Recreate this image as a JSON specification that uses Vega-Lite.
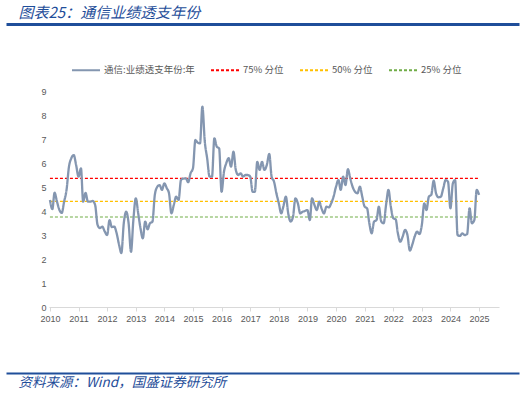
{
  "$schema": "https://vega.github.io/schema/vega-lite/v6.json",
  "background": "white",
  "padding": {"left": 5, "right": 5, "top": 6, "bottom": 0},
  "spacing": 30,
  "config": {"view": {"stroke": null}, "font": "Noto Sans CJK SC"},
  "vconcat": [
    {
      "width": 470,
      "height": 1,
      "title": {"text": "图表25：通信业绩透支年份", "anchor": "start", "dx": 13, "fontSize": 15, "fontStyle": "italic", "fontWeight": "normal", "color": "#1f4e9a", "offset": 2},
      "data": {"values": [{"a": 0}, {"a": 1}]},
      "mark": {"type": "point", "opacity": 0, "size": 1, "strokeWidth": 0},
      "encoding": {
        "x": {"field": "a", "type": "quantitative", "scale": {"domain": [0, 1], "range": [-43, 470]},
          "axis": {"domainColor": "#1f4e9a", "domainWidth": 3, "ticks": false, "labels": false, "title": null, "grid": false}}
      }
    },
    {
      "width": 450,
      "height": 253,
      "encoding": {
        "x": {"field": "d", "type": "temporal",
          "scale": {"domain": ["2009-12-20", "2025-09-12"]},
          "axis": {"title": null, "format": "%Y", "tickCount": {"interval": "year", "step": 1}, "grid": false, "labelFlush": false,
            "domainColor": "#d9d9d9", "tickColor": "#d9d9d9", "tickSize": 4, "labelColor": "#595959", "labelFontSize": 9, "labelFont": "Liberation Sans", "labelPadding": 3}},
        "y": {"field": "v", "type": "quantitative",
          "scale": {"domain": [0, 9], "range": [253, 37]},
          "axis": {"title": null, "values": [0, 1, 2, 3, 4, 5, 6, 7, 8, 9], "domain": false, "ticks": false, "grid": false, "labelOverlap": false,
            "labelColor": "#595959", "labelFontSize": 9, "labelFont": "Liberation Sans", "labelPadding": 3}},
        "color": {"field": "s", "type": "nominal",
          "scale": {"domain": ["通信:业绩透支年份:年", "75% 分位", "50% 分位", "25% 分位"], "range": ["#8496b0", "#ff0000", "#ffc000", "#70ad47"]},
          "legend": {"title": null, "orient": "none", "legendX": 22, "legendY": 32, "direction": "horizontal", "columnPadding": 12, "labelOffset": 3,
            "symbolType": "stroke", "symbolSize": 784, "symbolStrokeWidth": 2, "labelColor": "#595959", "labelFontSize": 9.5, "labelFont": "Noto Sans CJK SC"}},
        "strokeDash": {"field": "s", "type": "nominal",
          "scale": {"domain": ["通信:业绩透支年份:年", "75% 分位", "50% 分位", "25% 分位"], "range": [[1, 0], [3, 2], [3, 2], [3, 2]]},
          "legend": {"title": null, "orient": "none", "legendX": 22, "legendY": 32, "direction": "horizontal", "columnPadding": 12, "labelOffset": 3,
            "symbolType": "stroke", "symbolSize": 784, "symbolStrokeWidth": 2, "labelColor": "#595959", "labelFontSize": 9.5, "labelFont": "Noto Sans CJK SC"}}
      },
      "layer": [
        {
          "data": {"values": [
            {"s": "75% 分位", "v": 5.36, "d": "2010-01-01", "d2": "2025-01-01"},
            {"s": "50% 分位", "v": 4.40, "d": "2010-01-01", "d2": "2025-01-01"},
            {"s": "25% 分位", "v": 3.75, "d": "2010-01-01", "d2": "2025-01-01"}
          ]},
          "mark": {"type": "rule", "strokeWidth": 1.2},
          "encoding": {
            "x2": {"field": "d2"}
          }
        },
        {
          "data": {"values": [
            {"s": "通信:业绩透支年份:年", "d": "2010-01-01", "v": 4.46}, {"s": "通信:业绩透支年份:年", "d": "2010-02-01", "v": 4.08}, {"s": "通信:业绩透支年份:年", "d": "2010-03-01", "v": 4.76}, {"s": "通信:业绩透支年份:年", "d": "2010-04-01", "v": 4.39},
            {"s": "通信:业绩透支年份:年", "d": "2010-05-01", "v": 4.05}, {"s": "通信:业绩透支年份:年", "d": "2010-06-01", "v": 3.92}, {"s": "通信:业绩透支年份:年", "d": "2010-07-01", "v": 4.39}, {"s": "通信:业绩透支年份:年", "d": "2010-08-01", "v": 4.88},
            {"s": "通信:业绩透支年份:年", "d": "2010-09-01", "v": 5.85}, {"s": "通信:业绩透支年份:年", "d": "2010-10-01", "v": 6.2}, {"s": "通信:业绩透支年份:年", "d": "2010-11-01", "v": 6.33}, {"s": "通信:业绩透支年份:年", "d": "2010-12-01", "v": 5.92},
            {"s": "通信:业绩透支年份:年", "d": "2011-01-01", "v": 5.43}, {"s": "通信:业绩透支年份:年", "d": "2011-02-01", "v": 5.78}, {"s": "通信:业绩透支年份:年", "d": "2011-03-01", "v": 4.39}, {"s": "通信:业绩透支年份:年", "d": "2011-04-01", "v": 4.75},
            {"s": "通信:业绩透支年份:年", "d": "2011-05-01", "v": 4.39}, {"s": "通信:业绩透支年份:年", "d": "2011-06-01", "v": 4.39}, {"s": "通信:业绩透支年份:年", "d": "2011-07-01", "v": 4.42}, {"s": "通信:业绩透支年份:年", "d": "2011-08-01", "v": 4.25},
            {"s": "通信:业绩透支年份:年", "d": "2011-09-01", "v": 3.42}, {"s": "通信:业绩透支年份:年", "d": "2011-10-01", "v": 3.29}, {"s": "通信:业绩透支年份:年", "d": "2011-11-01", "v": 3.35}, {"s": "通信:业绩透支年份:年", "d": "2011-12-01", "v": 3.15},
            {"s": "通信:业绩透支年份:年", "d": "2012-01-01", "v": 3.0}, {"s": "通信:业绩透支年份:年", "d": "2012-02-01", "v": 3.62}, {"s": "通信:业绩透支年份:年", "d": "2012-03-01", "v": 3.33}, {"s": "通信:业绩透支年份:年", "d": "2012-04-01", "v": 3.35},
            {"s": "通信:业绩透支年份:年", "d": "2012-05-01", "v": 3.08}, {"s": "通信:业绩透支年份:年", "d": "2012-06-01", "v": 2.6}, {"s": "通信:业绩透支年份:年", "d": "2012-07-01", "v": 2.25}, {"s": "通信:业绩透支年份:年", "d": "2012-08-01", "v": 3.5},
            {"s": "通信:业绩透支年份:年", "d": "2012-09-01", "v": 3.97}, {"s": "通信:业绩透支年份:年", "d": "2012-10-01", "v": 3.5}, {"s": "通信:业绩透支年份:年", "d": "2012-11-01", "v": 2.3}, {"s": "通信:业绩透支年份:年", "d": "2012-12-01", "v": 3.62},
            {"s": "通信:业绩透支年份:年", "d": "2013-01-01", "v": 4.53}, {"s": "通信:业绩透支年份:年", "d": "2013-02-01", "v": 3.9}, {"s": "通信:业绩透支年份:年", "d": "2013-03-01", "v": 3.3}, {"s": "通信:业绩透支年份:年", "d": "2013-04-01", "v": 2.86},
            {"s": "通信:业绩透支年份:年", "d": "2013-05-01", "v": 3.56}, {"s": "通信:业绩透支年份:年", "d": "2013-06-01", "v": 3.24}, {"s": "通信:业绩透支年份:年", "d": "2013-07-01", "v": 3.49}, {"s": "通信:业绩透支年份:年", "d": "2013-08-01", "v": 3.55},
            {"s": "通信:业绩透支年份:年", "d": "2013-09-01", "v": 4.67}, {"s": "通信:业绩透支年份:年", "d": "2013-10-01", "v": 5.0}, {"s": "通信:业绩透支年份:年", "d": "2013-11-01", "v": 5.08}, {"s": "通信:业绩透支年份:年", "d": "2013-12-01", "v": 4.88},
            {"s": "通信:业绩透支年份:年", "d": "2014-01-01", "v": 5.15}, {"s": "通信:业绩透支年份:年", "d": "2014-02-01", "v": 4.95}, {"s": "通信:业绩透支年份:年", "d": "2014-03-01", "v": 4.74}, {"s": "通信:业绩透支年份:年", "d": "2014-04-01", "v": 3.9},
            {"s": "通信:业绩透支年份:年", "d": "2014-05-01", "v": 4.25}, {"s": "通信:业绩透支年份:年", "d": "2014-06-01", "v": 4.6}, {"s": "通信:业绩透支年份:年", "d": "2014-07-01", "v": 4.46}, {"s": "通信:业绩透支年份:年", "d": "2014-08-01", "v": 5.29},
            {"s": "通信:业绩透支年份:年", "d": "2014-09-01", "v": 5.35}, {"s": "通信:业绩透支年份:年", "d": "2014-10-01", "v": 5.36}, {"s": "通信:业绩透支年份:年", "d": "2014-11-01", "v": 5.2}, {"s": "通信:业绩透支年份:年", "d": "2014-12-01", "v": 5.57},
            {"s": "通信:业绩透支年份:年", "d": "2015-01-01", "v": 5.78}, {"s": "通信:业绩透支年份:年", "d": "2015-02-01", "v": 6.96}, {"s": "通信:业绩透支年份:年", "d": "2015-03-01", "v": 6.85}, {"s": "通信:业绩透支年份:年", "d": "2015-04-01", "v": 6.82},
            {"s": "通信:业绩透支年份:年", "d": "2015-05-01", "v": 8.35}, {"s": "通信:业绩透支年份:年", "d": "2015-06-01", "v": 6.89}, {"s": "通信:业绩透支年份:年", "d": "2015-07-01", "v": 6.2}, {"s": "通信:业绩透支年份:年", "d": "2015-08-01", "v": 5.43},
            {"s": "通信:业绩透支年份:年", "d": "2015-09-01", "v": 5.43}, {"s": "通信:业绩透支年份:年", "d": "2015-10-01", "v": 7.03}, {"s": "通信:业绩透支年份:年", "d": "2015-11-01", "v": 6.68}, {"s": "通信:业绩透支年份:年", "d": "2015-12-01", "v": 6.61},
            {"s": "通信:业绩透支年份:年", "d": "2016-01-01", "v": 4.8}, {"s": "通信:业绩透支年份:年", "d": "2016-02-01", "v": 5.64}, {"s": "通信:业绩透支年份:年", "d": "2016-03-01", "v": 5.99}, {"s": "通信:业绩透支年份:年", "d": "2016-04-01", "v": 6.2},
            {"s": "通信:业绩透支年份:年", "d": "2016-05-01", "v": 5.85}, {"s": "通信:业绩透支年份:年", "d": "2016-06-01", "v": 6.47}, {"s": "通信:业绩透支年份:年", "d": "2016-07-01", "v": 5.71}, {"s": "通信:业绩透支年份:年", "d": "2016-08-01", "v": 5.5},
            {"s": "通信:业绩透支年份:年", "d": "2016-09-01", "v": 5.57}, {"s": "通信:业绩透支年份:年", "d": "2016-10-01", "v": 5.43}, {"s": "通信:业绩透支年份:年", "d": "2016-11-01", "v": 5.5}, {"s": "通信:业绩透支年份:年", "d": "2016-12-01", "v": 5.5},
            {"s": "通信:业绩透支年份:年", "d": "2017-01-01", "v": 5.43}, {"s": "通信:业绩透支年份:年", "d": "2017-02-01", "v": 4.8}, {"s": "通信:业绩透支年份:年", "d": "2017-03-01", "v": 4.8}, {"s": "通信:业绩透支年份:年", "d": "2017-04-01", "v": 6.05},
            {"s": "通信:业绩透支年份:年", "d": "2017-05-01", "v": 5.71}, {"s": "通信:业绩透支年份:年", "d": "2017-06-01", "v": 6.05}, {"s": "通信:业绩透支年份:年", "d": "2017-07-01", "v": 5.71}, {"s": "通信:业绩透支年份:年", "d": "2017-08-01", "v": 5.92},
            {"s": "通信:业绩透支年份:年", "d": "2017-09-01", "v": 6.38}, {"s": "通信:业绩透支年份:年", "d": "2017-10-01", "v": 5.43}, {"s": "通信:业绩透支年份:年", "d": "2017-11-01", "v": 5.22}, {"s": "通信:业绩透支年份:年", "d": "2017-12-01", "v": 4.74},
            {"s": "通信:业绩透支年份:年", "d": "2018-01-01", "v": 4.32}, {"s": "通信:业绩透支年份:年", "d": "2018-02-01", "v": 3.9}, {"s": "通信:业绩透支年份:年", "d": "2018-03-01", "v": 4.2}, {"s": "通信:业绩透支年份:年", "d": "2018-04-01", "v": 4.6},
            {"s": "通信:业绩透支年份:年", "d": "2018-05-01", "v": 3.9}, {"s": "通信:业绩透支年份:年", "d": "2018-06-01", "v": 3.56}, {"s": "通信:业绩透支年份:年", "d": "2018-07-01", "v": 3.76}, {"s": "通信:业绩透支年份:年", "d": "2018-08-01", "v": 4.53},
            {"s": "通信:业绩透支年份:年", "d": "2018-09-01", "v": 4.32}, {"s": "通信:业绩透支年份:年", "d": "2018-10-01", "v": 3.9}, {"s": "通信:业绩透支年份:年", "d": "2018-11-01", "v": 3.97}, {"s": "通信:业绩透支年份:年", "d": "2018-12-01", "v": 4.0},
            {"s": "通信:业绩透支年份:年", "d": "2019-01-01", "v": 4.04}, {"s": "通信:业绩透支年份:年", "d": "2019-02-01", "v": 3.62}, {"s": "通信:业绩透支年份:年", "d": "2019-03-01", "v": 4.53}, {"s": "通信:业绩透支年份:年", "d": "2019-04-01", "v": 4.25},
            {"s": "通信:业绩透支年份:年", "d": "2019-05-01", "v": 4.04}, {"s": "通信:业绩透支年份:年", "d": "2019-06-01", "v": 4.39}, {"s": "通信:业绩透支年份:年", "d": "2019-07-01", "v": 4.1}, {"s": "通信:业绩透支年份:年", "d": "2019-08-01", "v": 3.9},
            {"s": "通信:业绩透支年份:年", "d": "2019-09-01", "v": 4.18}, {"s": "通信:业绩透支年份:年", "d": "2019-10-01", "v": 4.15}, {"s": "通信:业绩透支年份:年", "d": "2019-11-01", "v": 4.32}, {"s": "通信:业绩透支年份:年", "d": "2019-12-01", "v": 4.6},
            {"s": "通信:业绩透支年份:年", "d": "2020-01-01", "v": 5.01}, {"s": "通信:业绩透支年份:年", "d": "2020-02-01", "v": 5.29}, {"s": "通信:业绩透支年份:年", "d": "2020-03-01", "v": 4.88}, {"s": "通信:业绩透支年份:年", "d": "2020-04-01", "v": 5.43},
            {"s": "通信:业绩透支年份:年", "d": "2020-05-01", "v": 5.08}, {"s": "通信:业绩透支年份:年", "d": "2020-06-01", "v": 5.74}, {"s": "通信:业绩透支年份:年", "d": "2020-07-01", "v": 5.36}, {"s": "通信:业绩透支年份:年", "d": "2020-08-01", "v": 5.0},
            {"s": "通信:业绩透支年份:年", "d": "2020-09-01", "v": 4.8}, {"s": "通信:业绩透支年份:年", "d": "2020-10-01", "v": 4.74}, {"s": "通信:业绩透支年份:年", "d": "2020-11-01", "v": 5.01}, {"s": "通信:业绩透支年份:年", "d": "2020-12-01", "v": 4.6},
            {"s": "通信:业绩透支年份:年", "d": "2021-01-01", "v": 4.18}, {"s": "通信:业绩透支年份:年", "d": "2021-02-01", "v": 4.11}, {"s": "通信:业绩透支年份:年", "d": "2021-03-01", "v": 3.5}, {"s": "通信:业绩透支年份:年", "d": "2021-04-01", "v": 3.07},
            {"s": "通信:业绩透支年份:年", "d": "2021-05-01", "v": 3.56}, {"s": "通信:业绩透支年份:年", "d": "2021-06-01", "v": 3.62}, {"s": "通信:业绩透支年份:年", "d": "2021-07-01", "v": 4.18}, {"s": "通信:业绩透支年份:年", "d": "2021-08-01", "v": 3.56},
            {"s": "通信:业绩透支年份:年", "d": "2021-09-01", "v": 3.49}, {"s": "通信:业绩透支年份:年", "d": "2021-10-01", "v": 4.25}, {"s": "通信:业绩透支年份:年", "d": "2021-11-01", "v": 4.88}, {"s": "通信:业绩透支年份:年", "d": "2021-12-01", "v": 4.18},
            {"s": "通信:业绩透支年份:年", "d": "2022-01-01", "v": 3.7}, {"s": "通信:业绩透支年份:年", "d": "2022-02-01", "v": 3.65}, {"s": "通信:业绩透支年份:年", "d": "2022-03-01", "v": 3.07}, {"s": "通信:业绩透支年份:年", "d": "2022-04-01", "v": 2.72},
            {"s": "通信:业绩透支年份:年", "d": "2022-05-01", "v": 2.93}, {"s": "通信:业绩透支年份:年", "d": "2022-06-01", "v": 3.21}, {"s": "通信:业绩透支年份:年", "d": "2022-07-01", "v": 3.0}, {"s": "通信:业绩透支年份:年", "d": "2022-08-01", "v": 2.35},
            {"s": "通信:业绩透支年份:年", "d": "2022-09-01", "v": 2.6}, {"s": "通信:业绩透支年份:年", "d": "2022-10-01", "v": 2.93}, {"s": "通信:业绩透支年份:年", "d": "2022-11-01", "v": 3.14}, {"s": "通信:业绩透支年份:年", "d": "2022-12-01", "v": 3.04},
            {"s": "通信:业绩透支年份:年", "d": "2023-01-01", "v": 3.42}, {"s": "通信:业绩透支年份:年", "d": "2023-02-01", "v": 4.32}, {"s": "通信:业绩透支年份:年", "d": "2023-03-01", "v": 4.04}, {"s": "通信:业绩透支年份:年", "d": "2023-04-01", "v": 4.6},
            {"s": "通信:业绩透支年份:年", "d": "2023-05-01", "v": 4.67}, {"s": "通信:业绩透支年份:年", "d": "2023-06-01", "v": 5.26}, {"s": "通信:业绩透支年份:年", "d": "2023-07-01", "v": 4.74}, {"s": "通信:业绩透支年份:年", "d": "2023-08-01", "v": 4.57},
            {"s": "通信:业绩透支年份:年", "d": "2023-09-01", "v": 4.6}, {"s": "通信:业绩透支年份:年", "d": "2023-10-01", "v": 4.94}, {"s": "通信:业绩透支年份:年", "d": "2023-11-01", "v": 5.29}, {"s": "通信:业绩透支年份:年", "d": "2023-12-01", "v": 5.22},
            {"s": "通信:业绩透支年份:年", "d": "2024-01-01", "v": 4.11}, {"s": "通信:业绩透支年份:年", "d": "2024-02-01", "v": 5.15}, {"s": "通信:业绩透支年份:年", "d": "2024-03-01", "v": 5.29}, {"s": "通信:业绩透支年份:年", "d": "2024-04-01", "v": 3.0},
            {"s": "通信:业绩透支年份:年", "d": "2024-05-01", "v": 2.96}, {"s": "通信:业绩透支年份:年", "d": "2024-06-01", "v": 3.07}, {"s": "通信:业绩透支年份:年", "d": "2024-07-01", "v": 3.0}, {"s": "通信:业绩透支年份:年", "d": "2024-08-01", "v": 3.04},
            {"s": "通信:业绩透支年份:年", "d": "2024-09-01", "v": 4.11}, {"s": "通信:业绩透支年份:年", "d": "2024-10-01", "v": 3.49}, {"s": "通信:业绩透支年份:年", "d": "2024-11-01", "v": 3.62}, {"s": "通信:业绩透支年份:年", "d": "2024-12-01", "v": 4.88},
            {"s": "通信:业绩透支年份:年", "d": "2025-01-01", "v": 4.67}
          ]},
          "mark": {"type": "line", "strokeWidth": 2.3, "interpolate": "monotone"}
        }
      ]
    },
    {
      "width": 470,
      "height": 20,
      "title": {"text": "资料来源：Wind，国盛证券研究所", "orient": "bottom", "anchor": "start", "dx": 13, "fontSize": 13.5, "fontStyle": "italic", "fontWeight": "normal", "color": "#1f4e9a", "offset": 3},
      "data": {"values": [{"a": 0}, {"a": 1}]},
      "mark": {"type": "point", "opacity": 0, "size": 1, "strokeWidth": 0},
      "encoding": {
        "x": {"field": "a", "type": "quantitative", "scale": {"domain": [0, 1], "range": [-43, 470]},
          "axis": {"domainColor": "#1f4e9a", "domainWidth": 2, "ticks": false, "labels": false, "title": null, "grid": false}}
      }
    }
  ]
}
